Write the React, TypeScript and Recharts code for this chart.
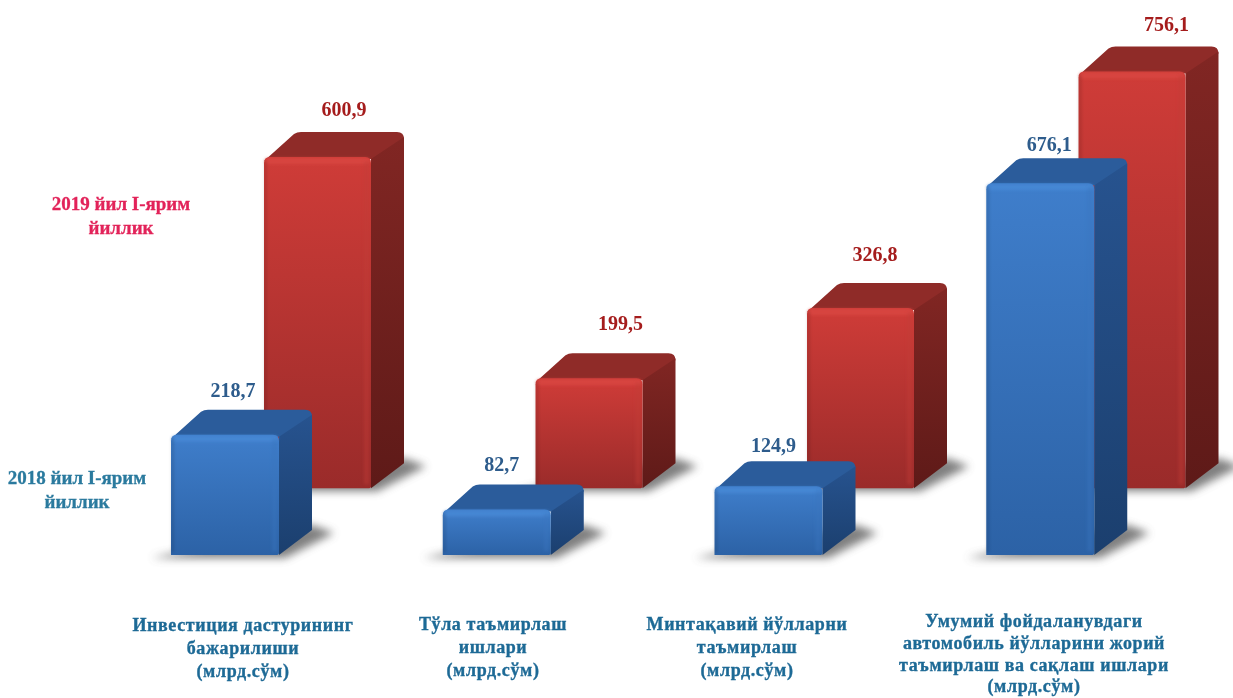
import React from "react";
import { BarChart, Bar, XAxis, YAxis, LabelList } from "recharts";

const categories = ["invest", "full", "regional", "public"];
const values2018 = [218.7, 82.7, 124.9, 676.1];
const values2019 = [600.9, 199.5, 326.8, 756.1];

const categoryLines = [
  ["Инвестиция дастурининг", "бажарилиши", "(млрд.сўм)"],
  ["Тўла таъмирлаш", "ишлари", "(млрд.сўм)"],
  ["Минтақавий йўлларни", "таъмирлаш", "(млрд.сўм)"],
  ["Умумий фойдаланувдаги", "автомобиль йўлларини жорий", "таъмирлаш ва сақлаш ишлари", "(млрд.сўм)"],
];

const legend2019 = ["2019 йил I-ярим", "йиллик"];
const legend2018 = ["2018 йил I-ярим", "йиллик"];

// hand placement of the text, the source picture has it set by eye
const labelCentres = [243, 493, 747, 1034];
const labelBaselines = [631, 630, 630, 627];
const labelPitch = [23, 23, 23, 21.8];
const nudge2018 = [[62, -38], [59, -39], [59, -34], [63, -32]];
const nudge2019 = [[80, -41], [85, -48], [68, -47], [88, -41]];

const data = categories.map((name, i) => ({
  name,
  y2018: values2018[i],
  y2019: values2019[i],
}));

const FONT = "'Liberation Serif', 'Times New Roman', serif";
const DX = 33;
const DY = 25;

const BLUE = { front: "url(#frontBlue)", top: "#2b5c9b", bevel: "#4a8bd8", edge: "#3a76bf", side: "url(#sideBlue)" };
const RED = { front: "url(#frontRed)", top: "#8f2b28", bevel: "#dc4a44", edge: "#c23c37", side: "url(#sideRed)" };

function Box3D({ x, y, width, height, tone }: any) {
  const c = tone === "red" ? RED : BLUE;
  const b = y + height;
  const r = x + width;
  const shadow = `M${x - 20} ${b + 3} L${r + 6} ${b + 3} L${r + DX + 22} ${b - DY + 3} L${r + DX} ${b - DY - 5} Z`;
  const top = `M${x} ${y + 4} L${x + DX - 3} ${y - DY + 2} Q${x + DX} ${y - DY} ${x + DX + 4} ${y - DY} L${r + DX - 7} ${y - DY} Q${r + DX} ${y - DY} ${r + DX} ${y - DY + 7} L${r + 2} ${y + 2} L${x + 6} ${y + 2} Z`;
  const side = `M${r} ${y + 2} L${r + DX} ${y - DY + 5} L${r + DX} ${b - DY} L${r} ${b} Z`;
  const front = `M${x} ${y + 6} Q${x} ${y} ${x + 6} ${y} L${r - 6} ${y} Q${r} ${y} ${r} ${y + 6} L${r} ${b - 2} Q${r} ${b} ${r - 3} ${b} L${x} ${b} Z`;
  return (
    <g>
      <path d={shadow} fill="#555" opacity={0.75} filter="url(#floorBlur)" />
      <path d={top} fill={c.top} />
      <path d={side} fill={c.side} />
      <path d={front} fill={c.front} />
      <rect x={x + 1} y={y + 1} width={width - 2} height={6} rx={3} fill={c.bevel} opacity={0.7} filter="url(#softEdge)" />
      <rect x={r - 7} y={y + 4} width={5} height={Math.max(height - 8, 0)} fill={c.edge} opacity={0.4} filter="url(#softEdge)" />
      <rect x={x} y={y + 3} width={3} height={Math.max(height - 6, 0)} fill="#000" opacity={0.12} filter="url(#softEdge)" />
    </g>
  );
}

function valueLabel(nudges: number[][], color: string) {
  return ({ x, y, value, index }: any) => (
    <text
      x={x + nudges[index][0]}
      y={y + nudges[index][1]}
      textAnchor="middle"
      fontFamily={FONT}
      fontWeight="bold"
      fontSize={20}
      fill={color}
      filter="url(#textSoft)"
    >
      {Number(value).toFixed(1).replace(".", ",")}
    </text>
  );
}

function CategoryTick({ index }: any) {
  const lines = categoryLines[index];
  if (!lines) return null;
  return (
    <text
      textAnchor="middle"
      fontFamily={FONT}
      fontWeight="bold"
      fontSize={18}
      letterSpacing={0.6}
      fill="#1f6a96"
      stroke="#1f6a96"
      strokeWidth={0.35}
      filter="url(#textSoft)"
    >
      {lines.map((line, i) => (
        <tspan key={line} x={labelCentres[index]} y={labelBaselines[index] + i * labelPitch[index]}>
          {line}
        </tspan>
      ))}
    </text>
  );
}

function TextBlock({ lines, x, y, color }: { lines: string[]; x: number; y: number; color: string }) {
  return (
    <text
      textAnchor="middle"
      fontFamily={FONT}
      fontWeight="bold"
      fontSize={19}
      fill={color}
      stroke={color}
      strokeWidth={0.3}
      filter="url(#textSoft)"
    >
      {lines.map((line, i) => (
        <tspan key={line} x={x} y={y + i * 24}>
          {line}
        </tspan>
      ))}
    </text>
  );
}

export default function App() {
  return (
    <div style={{ position: "absolute", left: 0, top: 0, width: 1233, height: 698, background: "#fff" }}>
      <BarChart width={1233} height={698} data={data} margin={{ top: 0, right: 0, bottom: 0, left: 0 }}>
        <defs>
          <linearGradient id="frontBlue" x1="0" y1="0" x2="0" y2="1">
            <stop offset="0" stopColor="#3f7ecb" />
            <stop offset="1" stopColor="#2c62a6" />
          </linearGradient>
          <linearGradient id="sideBlue" x1="0" y1="0" x2="0" y2="1">
            <stop offset="0" stopColor="#27538f" />
            <stop offset="1" stopColor="#1b3f6e" />
          </linearGradient>
          <linearGradient id="frontRed" x1="0" y1="0" x2="0" y2="1">
            <stop offset="0" stopColor="#cf3c38" />
            <stop offset="1" stopColor="#9a2b2a" />
          </linearGradient>
          <linearGradient id="sideRed" x1="0" y1="0" x2="0" y2="1">
            <stop offset="0" stopColor="#812623" />
            <stop offset="1" stopColor="#5e1a18" />
          </linearGradient>
          <filter id="floorBlur" x="-30%" y="-80%" width="160%" height="260%">
            <feGaussianBlur stdDeviation="4" />
          </filter>
          <filter id="softEdge" x="-80%" y="-50%" width="260%" height="200%">
            <feGaussianBlur stdDeviation="1.4" />
          </filter>
          <filter id="textSoft" x="-5%" y="-10%" width="110%" height="120%">
            <feGaussianBlur stdDeviation="0.4" />
          </filter>
        </defs>

        <XAxis xAxisId="back" dataKey="name" hide padding={{ left: 182, right: -35 }} />
        <XAxis
          xAxisId="front"
          dataKey="name"
          height={1}
          interval={0}
          axisLine={false}
          tickLine={false}
          tick={<CategoryTick />}
          padding={{ left: 89, right: 57 }}
        />
        <YAxis yAxisId="back" hide domain={[-379, 886]} />
        <YAxis yAxisId="front" hide domain={[-258, 1009]} />

        <Bar
          xAxisId="back"
          yAxisId="back"
          dataKey="y2019"
          barSize={107}
          isAnimationActive={false}
          shape={(p: any) => <Box3D {...p} tone="red" />}
        >
          <LabelList dataKey="y2019" content={valueLabel(nudge2019, "#a51d1d")} />
        </Bar>
        <Bar
          xAxisId="front"
          yAxisId="front"
          dataKey="y2018"
          barSize={108}
          isAnimationActive={false}
          shape={(p: any) => <Box3D {...p} tone="blue" />}
        >
          <LabelList dataKey="y2018" content={valueLabel(nudge2018, "#2d5c8c")} />
        </Bar>

        <TextBlock lines={legend2019} x={121} y={210} color="#e2245a" />
        <TextBlock lines={legend2018} x={77} y={484} color="#2a7a9e" />
      </BarChart>
    </div>
  );
}
